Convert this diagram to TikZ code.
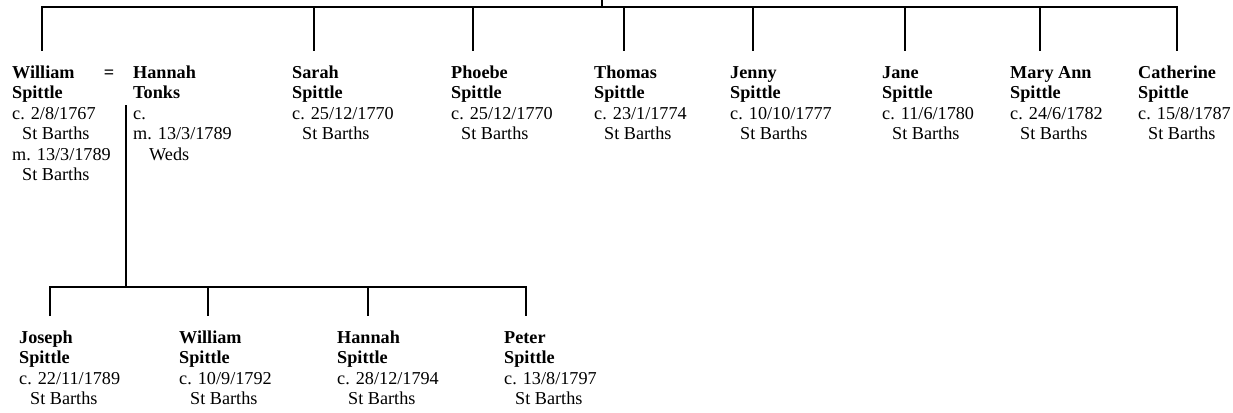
\documentclass[tikz,border=0pt]{standalone}
\usepackage{fontspec}
\setmainfont{Liberation Serif}
\newcommand\pl[1]{\hbox{#1}}
\newcommand\stb{\pl{\kern10pt St Barths}}
\tikzset{
  person/.style={anchor=base west, inner sep=0pt, font=\fontsize{18.2}{20.5}\selectfont},
  tree/.style={line width=2.6pt, line join=miter}
}
\begin{document}
\begin{tikzpicture}[x=1pt,y=-1pt]
\useasboundingbox (0,0) rectangle (1233,412);
% generation 1
\node[person] (william) at (12,78) {\vtop{\baselineskip=20.5pt\pl{\bfseries William}\pl{\bfseries Spittle}\pl{c. 2/8/1767}\stb\pl{m. 13/3/1789}\stb}};
\node[person, anchor=base] (eq) at (109,78) {\bfseries =};
\node[person] (hannah) at (133,78) {\vtop{\baselineskip=20.5pt\pl{\bfseries Hannah}\pl{\bfseries Tonks}\pl{c.}\pl{m. 13/3/1789}\pl{\kern16pt Weds}}};
\node[person] (sarah) at (292,78) {\vtop{\baselineskip=20.5pt\pl{\bfseries Sarah}\pl{\bfseries Spittle}\pl{c. 25/12/1770}\stb}};
\node[person] (phoebe) at (451,78) {\vtop{\baselineskip=20.5pt\pl{\bfseries Phoebe}\pl{\bfseries Spittle}\pl{c. 25/12/1770}\stb}};
\node[person] (thomas) at (594,78) {\vtop{\baselineskip=20.5pt\pl{\bfseries Thomas}\pl{\bfseries Spittle}\pl{c. 23/1/1774}\stb}};
\node[person] (jenny) at (730,78) {\vtop{\baselineskip=20.5pt\pl{\bfseries Jenny}\pl{\bfseries Spittle}\pl{c. 10/10/1777}\stb}};
\node[person] (jane) at (882,78) {\vtop{\baselineskip=20.5pt\pl{\bfseries Jane}\pl{\bfseries Spittle}\pl{c. 11/6/1780}\stb}};
\node[person] (maryann) at (1010,78) {\vtop{\baselineskip=20.5pt\pl{\bfseries Mary Ann}\pl{\bfseries Spittle}\pl{c. 24/6/1782}\stb}};
\node[person] (catherine) at (1138,78) {\vtop{\baselineskip=20.5pt\pl{\bfseries Catherine}\pl{\bfseries Spittle}\pl{c. 15/8/1787}\stb}};
% generation 2
\node[person] (joseph) at (19,343) {\vtop{\baselineskip=20.5pt\pl{\bfseries Joseph}\pl{\bfseries Spittle}\pl{c. 22/11/1789}\pl{\kern11pt St Barths}}};
\node[person] (william2) at (179,343) {\vtop{\baselineskip=20.5pt\pl{\bfseries William}\pl{\bfseries Spittle}\pl{c. 10/9/1792}\pl{\kern11pt St Barths}}};
\node[person] (hannah2) at (337,343) {\vtop{\baselineskip=20.5pt\pl{\bfseries Hannah}\pl{\bfseries Spittle}\pl{c. 28/12/1794}\pl{\kern11pt St Barths}}};
\node[person] (peter) at (504,343) {\vtop{\baselineskip=20.5pt\pl{\bfseries Peter}\pl{\bfseries Spittle}\pl{c. 13/8/1797}\pl{\kern11pt St Barths}}};
% connector coordinates
\coordinate (parents) at (602,0);
\coordinate (bar1) at (602,7);
\coordinate (dwilliam) at (42,51);
\coordinate (dsarah) at (314,51);
\coordinate (dphoebe) at (473,51);
\coordinate (dthomas) at (624,51);
\coordinate (djenny) at (753,51);
\coordinate (djane) at (905,51);
\coordinate (dmaryann) at (1040,51);
\coordinate (dcatherine) at (1177,51);
\coordinate (couple) at (126,105);
\coordinate (bar2) at (126,287);
\coordinate (djoseph) at (50,316);
\coordinate (dwilliam2) at (208,316);
\coordinate (dhannah2) at (368,316);
\coordinate (dpeter) at (526,316);
% generation 1 lines
\draw[tree] (parents) -- (bar1);
\draw[tree] (dwilliam) -- (dwilliam|-bar1) -- (dcatherine|-bar1) -- (dcatherine);
\foreach \d in {dsarah,dphoebe,dthomas,djenny,djane,dmaryann}
  \draw[tree] (\d|-bar1) -- (\d);
% generation 2 lines
\draw[tree] (couple) -- (bar2);
\draw[tree] (djoseph) -- (djoseph|-bar2) -- (dpeter|-bar2) -- (dpeter);
\foreach \d in {dwilliam2,dhannah2}
  \draw[tree] (\d|-bar2) -- (\d);
\end{tikzpicture}
\end{document}
